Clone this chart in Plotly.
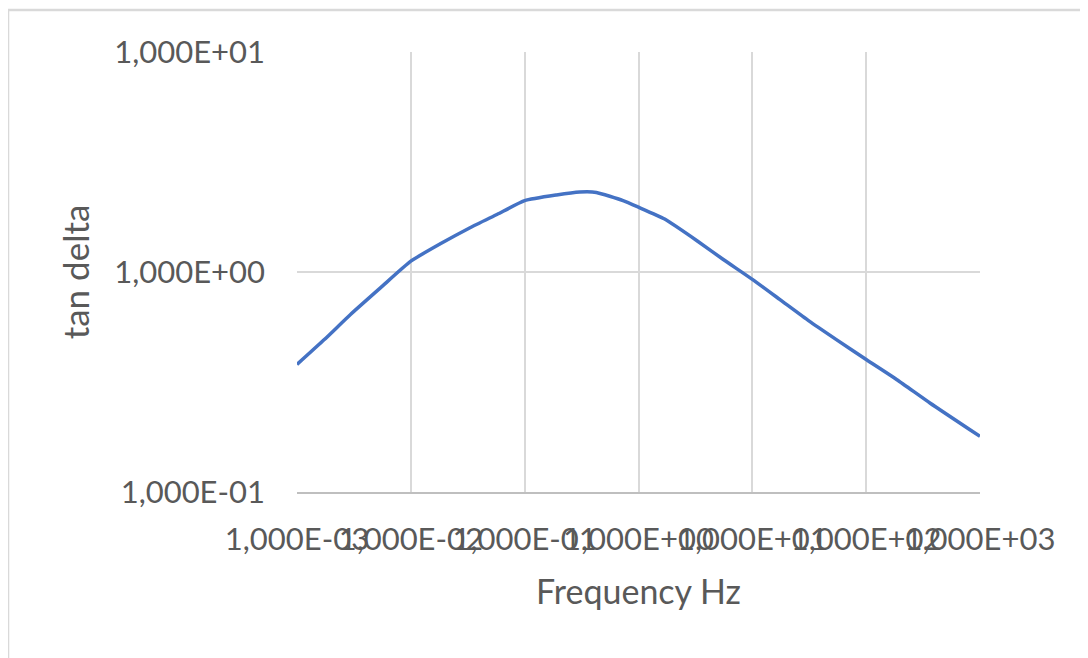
import plotly.graph_objects as go

# Data
frequency_hz = [0.001, 0.001738, 0.002951, 0.005433, 0.01, 0.01799, 0.03311, 0.05754,
                0.1, 0.1905, 0.3055, 0.4266, 0.7311, 1.0, 1.698, 3.311, 5.559,
                10.0, 17.38, 31.62, 54.33, 100.0, 186.2, 363.1, 1000.0]
tan_delta = [0.38, 0.493, 0.641, 0.849, 1.12, 1.34, 1.59, 1.83,
             2.11, 2.24, 2.31, 2.30, 2.11, 1.97, 1.74, 1.38, 1.14,
             0.926, 0.751, 0.598, 0.494, 0.40, 0.324, 0.254, 0.179]

x_tick_vals = [0.001, 0.01, 0.1, 1, 10, 100, 1000]
x_tick_text = ["1,000E-03", "1,000E-02", "1,000E-01", "1,000E+00",
               "1,000E+01", "1,000E+02", "1,000E+03"]
y_tick_vals = [0.1, 1, 10]
y_tick_text = ["1,000E-01", "1,000E+00", "1,000E+01"]

FONT = "Lato"
TXT = "#595959"
GRID = "#d9d9d9"

fig = go.Figure()
fig.add_trace(go.Scatter(
    x=frequency_hz, y=tan_delta, mode="lines",
    line=dict(color="#4472C4", width=3.5, shape="spline", smoothing=0.5),
    showlegend=False,
))

fig.update_layout(
    width=1088, height=658,
    margin=dict(l=289, r=116, t=44, b=174),
    paper_bgcolor="white", plot_bgcolor="white",
    font=dict(family=FONT, color=TXT, size=31),
    xaxis=dict(
        type="log", range=[-3, 3],
        tickvals=x_tick_vals, ticktext=x_tick_text, tickangle=0,
        showgrid=True, gridcolor=GRID, gridwidth=1.5,
        showline=True, linecolor="#bfbfbf", linewidth=2,
        ticks="", ticklabelstandoff=19,
        tickfont=dict(size=31, color=TXT, family=FONT),
        title=dict(text="Frequency Hz", font=dict(size=34, color=TXT, family=FONT), standoff=24),
        zeroline=False, automargin=False,
    ),
    yaxis=dict(
        type="log", range=[-1, 1],
        tickvals=y_tick_vals, ticktext=y_tick_text,
        showgrid=True, gridcolor=GRID, gridwidth=1.5,
        showline=False, ticks="", ticklabelstandoff=31,
        tickfont=dict(size=31, color=TXT, family=FONT),
        title=dict(text="tan delta", font=dict(size=35, color=TXT, family=FONT), standoff=13),
        zeroline=False, automargin=False,
    ),
    shapes=[dict(
        type="rect", xref="paper", yref="paper",
        x0=-0.4231, x1=1.18, y0=-0.43, y1=1.0955,
        line=dict(color="#d9d9d9", width=2.5), fillcolor="rgba(0,0,0,0)",
        layer="below",
    )],
)

fig.write_html("out.html")
